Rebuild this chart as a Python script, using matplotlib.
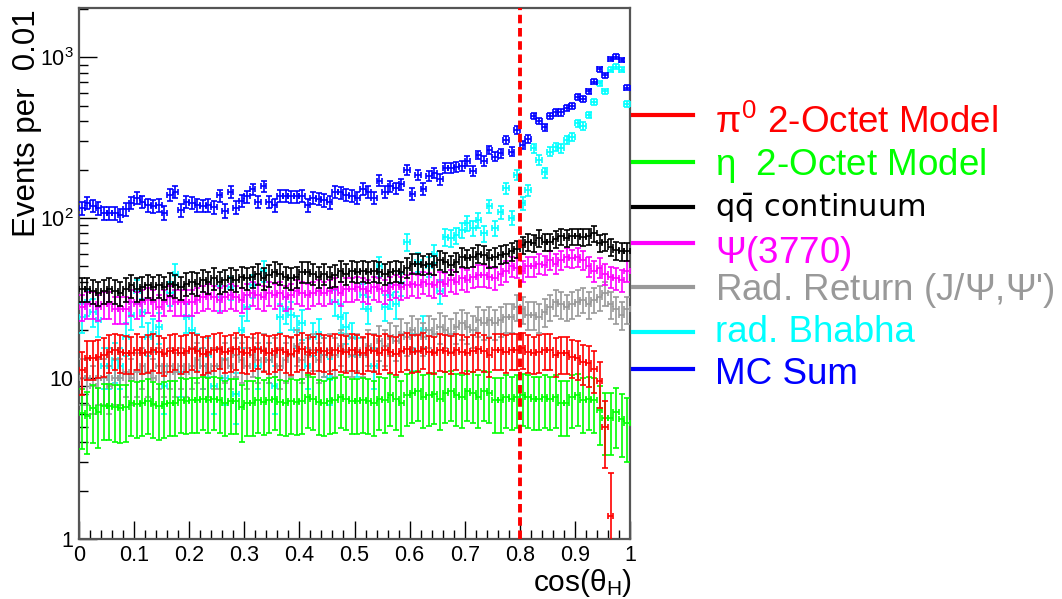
import numpy as np
import matplotlib.pyplot as plt
from matplotlib.lines import Line2D
from matplotlib.ticker import FixedLocator, FixedFormatter

plt.rcParams['font.family'] = ['Liberation Sans', 'DejaVu Sans']
plt.rcParams['mathtext.fontset'] = 'custom'
plt.rcParams['mathtext.rm'] = 'Liberation Sans'
plt.rcParams['mathtext.it'] = 'Liberation Sans'
plt.rcParams['mathtext.bf'] = 'Liberation Sans:bold'

# 100 bins in cos(theta_H), 0 .. 1
bin_edges = np.linspace(0, 1, 101)

# events per bin
pi0 = [11.3, 13.4, 13.4, 13.7, 14.0, 14.7, 15.1, 14.7, 14.5, 14.4, 15.1, 14.4, 14.7, 15.0, 14.6, 14.2, 14.8, 15.1, 14.5, 14.9,
       15.2, 14.8, 14.3, 14.6, 15.0, 15.3, 14.6, 14.9, 15.2, 14.7, 14.4, 15.0, 15.3, 14.8, 14.5, 14.9, 15.1, 14.6, 14.3, 14.8,
       15.2, 14.7, 14.4, 15.0, 14.8, 14.5, 15.1, 14.9, 14.6, 15.0, 14.7, 14.4, 15.0, 14.8, 14.5, 15.1, 14.6, 14.3, 14.9, 15.2,
       14.7, 14.9, 15.3, 14.6, 14.4, 15.0, 14.8, 14.5, 15.1, 14.7, 14.4, 14.9, 15.2, 14.8, 14.0, 15.1, 15.1, 14.7, 15.1, 15.1,
       15.4, 14.7, 14.4, 14.7, 15.1, 15.1, 14.0, 14.4, 14.4, 13.7, 13.4, 12.7, 12.4, 11.5, 9.6, 5.0, 1.4, np.nan, np.nan, np.nan]
eta = [6.1, 5.8, 6.5, 6.2, 6.7, 6.7, 6.6, 6.5, 6.6, 7.0, 6.9, 7.0, 7.2, 6.9, 6.7, 6.9, 7.0, 7.0, 7.3, 7.2,
       7.3, 7.3, 7.5, 7.3, 7.5, 7.3, 7.0, 7.2, 7.2, 6.6, 7.0, 7.0, 7.3, 7.1, 7.3, 7.5, 7.1, 7.0, 7.2, 7.1,
       7.2, 7.7, 7.5, 7.1, 7.0, 7.2, 7.3, 7.7, 7.5, 7.2, 7.2, 7.3, 7.2, 7.0, 7.5, 7.3, 7.9, 7.5, 7.0, 7.9,
       8.1, 8.3, 7.7, 7.9, 8.0, 7.5, 8.1, 8.3, 7.9, 7.7, 8.3, 8.1, 7.7, 8.3, 8.1, 7.3, 7.3, 7.7, 7.5, 7.7,
       7.9, 7.7, 7.5, 7.5, 7.7, 7.5, 7.7, 7.0, 7.0, 7.7, 7.9, 7.3, 7.5, 7.3, 6.4, 5.7, 5.7, 6.2, 5.6, 5.3]
qqbar = [36, 36, 35, 34, 35, 36, 35, 34, 36, 38, 36, 37, 38, 37, 38, 37, 39, 38, 37, 39,
         40, 39, 41, 40, 42, 40, 41, 42, 41, 43, 42, 43, 45, 42, 44, 46, 45, 43, 42, 43,
         46, 46, 45, 43, 45, 43, 44, 47, 45, 47, 46, 47, 46, 47, 46, 45, 46, 47, 46, 49,
         52, 52, 51, 52, 51, 55, 53, 51, 53, 57, 56, 57, 60, 59, 56, 57, 59, 60, 62, 64,
         68, 71, 70, 75, 71, 71, 74, 77, 75, 77, 77, 76, 77, 80, 70, 71, 66, 63, 62, 62]
psi3770 = [28, 29, 29, 28, 29, 29, 27, 27, 27, 30, 29, 30, 31, 30, 28, 30, 32, 30, 30, 30,
           30, 31, 32, 33, 32, 31, 32, 33, 32, 31, 33, 34, 33, 32, 34, 33, 34, 32, 33, 35,
           34, 33, 34, 35, 34, 35, 36, 34, 36, 36, 37, 36, 35, 37, 36, 35, 37, 38, 37, 38,
           39, 38, 40, 39, 38, 40, 39, 41, 40, 42, 41, 43, 44, 44, 43, 42, 45, 47, 50, 49,
           47, 50, 50, 52, 51, 55, 52, 55, 57, 56, 57, 55, 50, 47, 49, 45, 43, 42, 41, 47]
rad_return = [10, 10, 9, 10, 10, 9, 10, 10, 11, 10, 11, 12, 11, 10, 12, 11, 12, 11, 12, 11,
              12, 13, 12, 11, 12, 12, 13, 12, 14, 13, 12, 14, 13, 15, 13, 14, 12, 13, 14, 16,
              13, 14, 15, 13, 14, 15, 14, 16, 15, 14, 15, 14, 16, 15, 17, 16, 18, 17, 19, 18,
              20, 19, 18, 20, 19, 21, 20, 19, 21, 22, 21, 20, 23, 22, 23, 22, 23, 24, 24, 28,
              27, 25, 25, 24, 26, 28, 30, 29, 28, 29, 30, 31, 29, 31, 32, 34, 29, 27, 25, 27]
bhabha = [24, 30, 26, 23, 12, 12, 13, 12, 18, 25, 35, 26, 18, 19, 21, 9, 34, 45, 11, 24,
          20, 15, 12, 14, 9, 32, 10, 37, 8, 20, 28, 38, 12, 47, 13, 9, 24, 27, 25, 20,
          22, 12, 18, 19, 14, 10, 30, 24, 21, 18, 14, 33, 27, 12, 50, 28, 33, 29, 39, 71,
          15, 53, 20, 50, 60, 35, 76, 75, 78, 84, 93, 87, 97, 80, 118, 86, 109, 153, 100, 185,
          123, 149, 272, 230, 192, 259, 278, 272, 306, 321, 389, 374, 438, 531, 690, 613, 836, 877, 836, 511]
mc_sum = [115, 124, 119, 115, 107, 107, 107, 104, 113, 124, 133, 126, 120, 118, 120, 108, 139, 146, 112, 126,
          124, 120, 119, 120, 117, 138, 111, 146, 116, 128, 136, 151, 126, 158, 126, 120, 137, 137, 136, 136,
          137, 120, 134, 132, 129, 125, 146, 144, 139, 137, 134, 152, 146, 133, 171, 146, 157, 153, 163, 199,
          141, 185, 152, 183, 190, 174, 204, 204, 209, 211, 227, 197, 247, 227, 265, 241, 253, 306, 259, 353,
          285, 311, 432, 402, 367, 432, 455, 455, 484, 501, 570, 549, 613, 707, 844, 771, 979, 1011, 965, 649]

labels = [r'$\pi^{0}$ 2-Octet Model', r'$\eta$  2-Octet Model', r'$\mathsf{q\bar{q}}$ continuum',
          r'$\Psi$(3770)', r"Rad. Return (J/$\Psi$,$\Psi$')", 'rad. Bhabha', 'MC Sum']
colors = ['#ff0000', '#00ff00', '#000000', '#ff00ff', '#999999', '#00ffff', '#0000ff']
series = [pi0, eta, qqbar, psi3770, rad_return, bhabha, mc_sum]

x_ticks = [0, 0.1, 0.2, 0.3, 0.4, 0.5, 0.6, 0.7, 0.8, 0.9, 1.0]
x_ticklabels = ['0', '0.1', '0.2', '0.3', '0.4', '0.5', '0.6', '0.7', '0.8', '0.9', '1']
y_ticks = [1, 10, 100, 1000]
y_ticklabels = ['1', '10', r'$10^{2}$', r'$10^{3}$']

fig = plt.figure(figsize=(10.62, 5.99), dpi=100)
ax = fig.add_axes([79 / 1062, 1 - 539 / 599, (630 - 79) / 1062, (539 - 8) / 599])

centers = 0.5 * (bin_edges[:-1] + bin_edges[1:])
half = 0.5 * (bin_edges[1] - bin_edges[0])
draw_order = [5, 4, 3, 2, 1, 0, 6]
for i in draw_order:
    y = np.array(series[i], dtype=float)
    ok = ~np.isnan(y)
    ax.errorbar(centers[ok], y[ok], xerr=half, yerr=np.sqrt(y[ok]), fmt='none',
                ecolor=colors[i], elinewidth=1.2, capsize=2.2, capthick=1.2, zorder=3)

ax.axvline(0.8, color='#ff0000', lw=2.8, ls=(0, (2.2, 1.2)), zorder=4)

ax.set_yscale('log')
ax.set_xlim(0, 1)
ax.set_ylim(1, 2030)

ax.xaxis.set_major_locator(FixedLocator(x_ticks))
ax.xaxis.set_major_formatter(FixedFormatter(x_ticklabels))
ax.xaxis.set_minor_locator(FixedLocator(np.arange(0, 1.001, 0.02)))
ax.yaxis.set_major_locator(FixedLocator(y_ticks))
ax.yaxis.set_major_formatter(FixedFormatter(y_ticklabels))
minors = [m * d for d in [1, 10, 100, 1000] for m in range(2, 10)]
ax.yaxis.set_minor_locator(FixedLocator(minors))
ax.yaxis.set_minor_formatter(FixedFormatter([''] * len(minors)))

ax.tick_params(which='both', direction='in', top=False, right=False, colors='black', labelsize=15.5)
ax.tick_params(which='major', length=13, width=1.0, pad=4)
ax.tick_params(which='minor', length=6.5, width=1.0)
for s in ax.spines.values():
    s.set_color('#555555')
    s.set_linewidth(1.6)

fig.text(27 / 1062, 1 - 9 / 599, 'Events per  0.01', rotation=90, ha='center', va='top', fontsize=22.5)
fig.text(632 / 1062, 1 - 591 / 599, r'cos($\theta_{\mathrm{H}}$)', ha='right', va='baseline', fontsize=21.5)

# legend to the right of the frame
line_y = [115, 162, 207, 243, 287, 332, 369]
text_base = [133, 175, 217, 263, 300, 342, 384]
for i in range(7):
    fig.add_artist(Line2D([633 / 1062, 693 / 1062], [1 - line_y[i] / 599] * 2, color=colors[i], lw=3))
    if i == 2:
        fig.text(715 / 1062, 1 - text_base[i] / 599, labels[i], color=colors[i], fontsize=22,
                 family='DejaVu Sans', va='baseline', math_fontfamily='dejavusans')
    else:
        fig.text(715 / 1062, 1 - text_base[i] / 599, labels[i], color=colors[i], fontsize=26.5, va='baseline')

fig.savefig('out.png', dpi=100)
